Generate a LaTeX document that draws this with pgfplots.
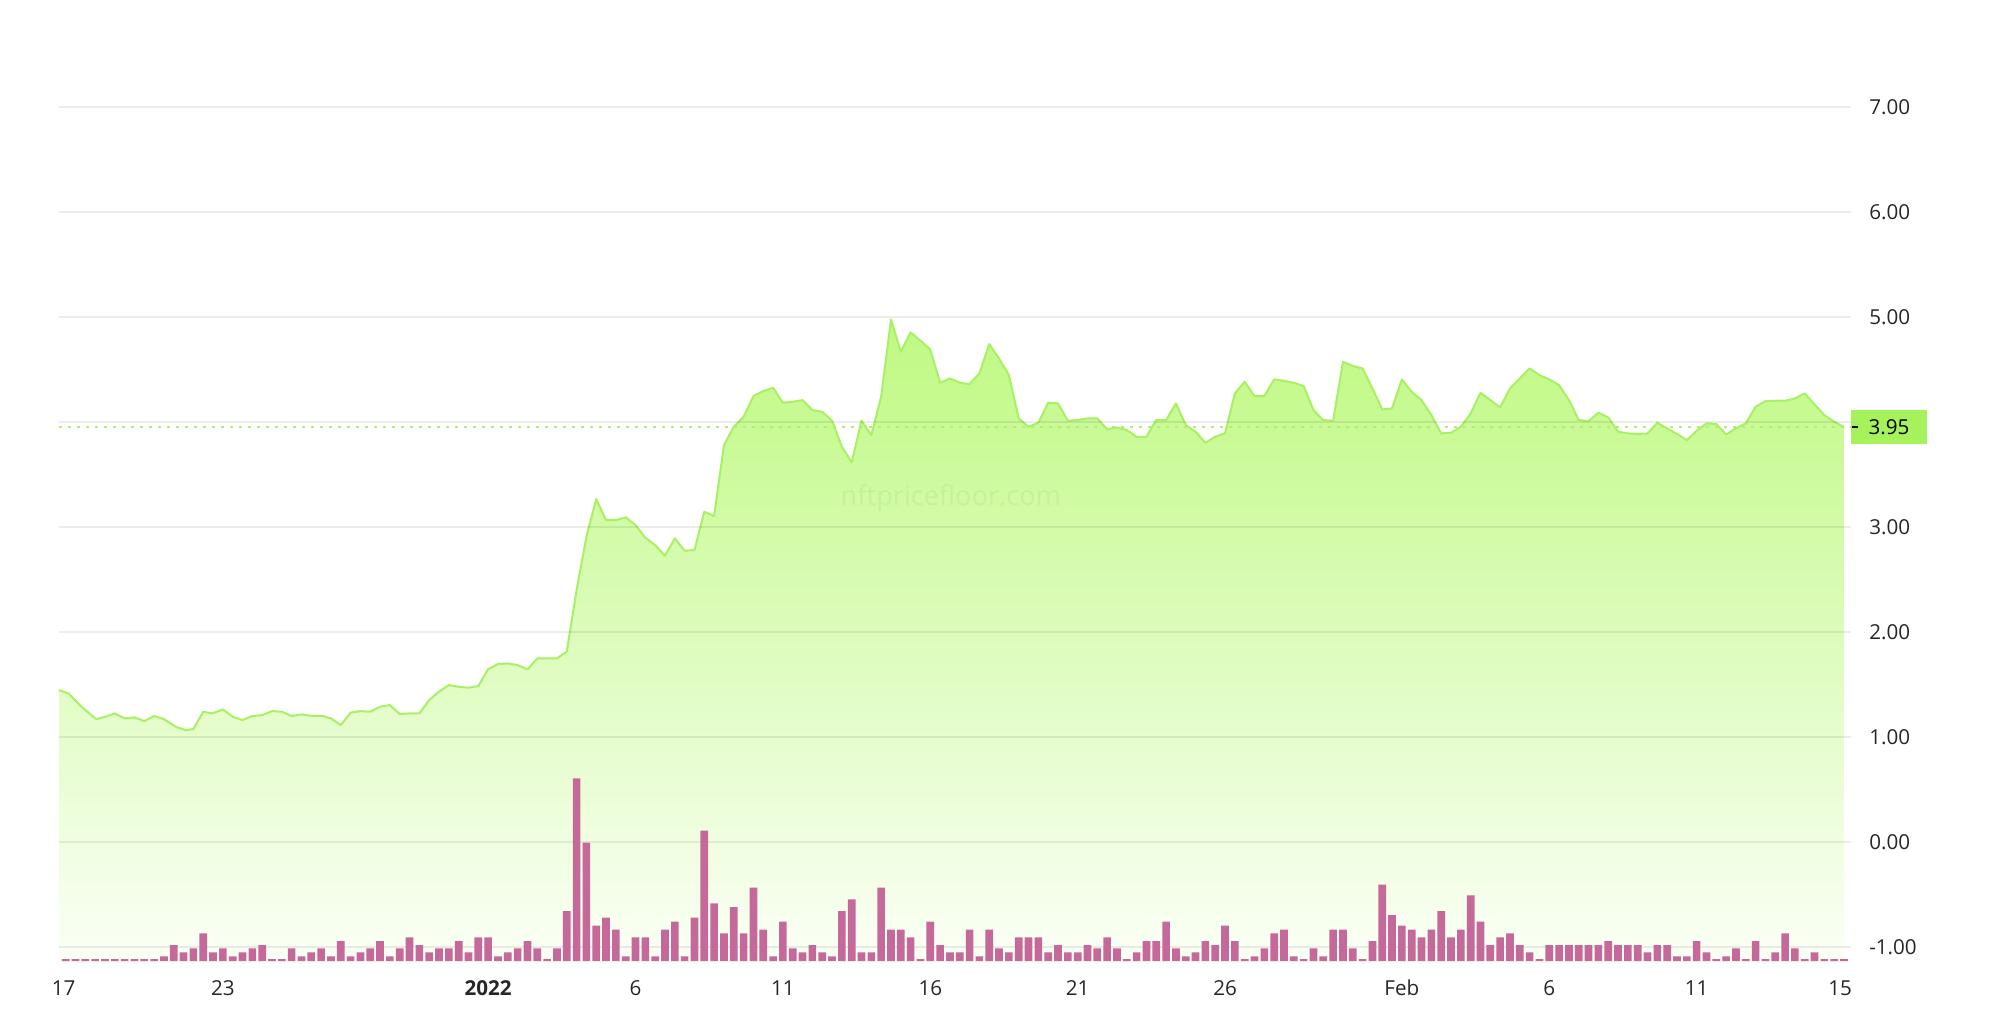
\documentclass[border=0pt]{standalone}
\usepackage{pgfplots}
\pgfplotsset{compat=1.18}
\usepackage{pgfplotstable}
\usepackage{fontspec}
\setmainfont{Open Sans}
\definecolor{linegreen}{HTML}{A8F064}
\definecolor{areatop}{HTML}{BFF982}
\definecolor{areabot}{HTML}{FBFFF6}
\definecolor{boxgreen}{HTML}{A6F25A}
\definecolor{barpink}{HTML}{C4699A}
\definecolor{dotgreen}{HTML}{B2EE78}

\pgfplotstableread{
k v
-0.7 1.444
0.3 1.413
1.6 1.286
3.1 1.168
4 1.190
5 1.222
6 1.175
7 1.184
8 1.149
9 1.197
10 1.168
11.2 1.095
12.2 1.063
13 1.073
14 1.238
14.9 1.222
16 1.260
17 1.190
18 1.159
19 1.197
20 1.206
21 1.244
22 1.238
23 1.197
24 1.213
25 1.200
26.2 1.197
27 1.175
28 1.111
29 1.229
30 1.244
31 1.238
32 1.286
33 1.302
34 1.216
35 1.222
36 1.222
37 1.349
38 1.429
39 1.492
40 1.476
41 1.467
42 1.483
43 1.644
44 1.692
45 1.698
46 1.683
47 1.641
48 1.746
49 1.746
50 1.746
51 1.810
52 2.397
53 2.905
54 3.263
55 3.063
56 3.063
57 3.089
58 3.016
59 2.895
60 2.825
61 2.724
62 2.889
63 2.771
64 2.778
65 3.143
66 3.102
67 3.778
68 3.952
69 4.048
70 4.244
71 4.292
72 4.324
73 4.181
74 4.190
75 4.206
76 4.111
77 4.095
78 4.010
79 3.762
80 3.613
81 4.010
82 3.873
83 4.238
84 4.975
85 4.667
86 4.851
87 4.771
88 4.689
89 4.371
90 4.413
91 4.371
92 4.359
93 4.460
94 4.740
95 4.603
96 4.444
97 4.032
98 3.952
99 3.990
100 4.181
101 4.175
102 4.010
103 4.016
104 4.032
105 4.032
106 3.927
107 3.946
108 3.921
109 3.857
110 3.857
111 4.016
112 4.016
113 4.175
114 3.968
115 3.905
116 3.800
117 3.857
118 3.889
119 4.270
120 4.381
121 4.244
122 4.244
123 4.403
124 4.390
125 4.371
126 4.340
127 4.111
128 4.016
129 4.010
130 4.571
131 4.530
132 4.508
133 4.317
134 4.117
135 4.127
136 4.403
137 4.286
138 4.206
139 4.063
140 3.889
141 3.895
142 3.952
143 4.079
144 4.276
145 4.206
146 4.137
147 4.317
148 4.413
149 4.508
150 4.444
151 4.403
152 4.349
153 4.206
154 4.016
155 4.006
156 4.086
157 4.041
158 3.905
159 3.889
160 3.883
161 3.889
162 3.990
163 3.937
164 3.883
165 3.825
166 3.914
167 3.984
168 3.978
169 3.879
170 3.937
171 3.984
172 4.143
173 4.197
174 4.200
175 4.200
176 4.222
177 4.270
178 4.165
179 4.063
180 4.000
181 3.950
}\price

\begin{document}
\begin{tikzpicture}
\useasboundingbox (0,0) rectangle (997pt,510pt);
\begin{axis}[
  at={(29.25pt,28.75pt)}, anchor=south west,
  scale only axis, width=896.2pt, height=454.125pt,
  xmin=-0.73, xmax=181.7, ymin=-1.15, ymax=7.5,
  clip=false, axis on top,
  axis line style={draw=none}, major tick length=0pt,
  ymajorgrids, major grid style={line width=1pt, black, opacity=0.075},
  ytick={-1,0,1,2,3,4,5,6,7},
  yticklabels={-1.00,0.00,1.00,2.00,3.00,,5.00,6.00,7.00},
  yticklabel pos=right,
  yticklabel style={anchor=west, inner sep=0pt, xshift=9pt},
  xtick={-0.2,16,43,58,73,88,103,118,136,151,166,180.6},
  xticklabels={17,23,\textbf{2022},6,11,16,21,26,Feb,6,11,15},
  xticklabel style={anchor=base, yshift=-16.5pt},
  tick label style={font=\fontsize{10.3pt}{12pt}\selectfont, text=black!85},
]
\addplot[draw=none, top color=areatop, bottom color=areabot] table[x=k, y=v] {\price} |- (axis cs:-0.7,-1.15) -- cycle;
\node[text=black, opacity=0.045, font=\fontsize{13.6pt}{16pt}\selectfont] at (axis cs:90.1,3.27) {nftpricefloor.com};
\addplot[draw=dotgreen, line width=1pt, dash pattern=on 1.5pt off 3pt] coordinates {(-0.73,3.95) (181.7,3.95)};
\addplot[draw=linegreen, line width=1pt, line join=round] table[x=k, y=v] {\price};
\node[fill=boxgreen, anchor=west, minimum width=38pt, minimum height=17pt, inner sep=0pt] at (axis cs:181.7,3.95) {};
\node[anchor=west, inner sep=0pt, xshift=0.5pt, font=\fontsize{10.3pt}{12pt}\selectfont] at (axis cs:181.7,3.95) {\rule[3.35pt]{2.8pt}{0.8pt}\hspace{5.35pt}3.95};
\end{axis}
\begin{axis}[
  at={(29.25pt,28.75pt)}, anchor=south west,
  scale only axis, width=896.2pt, height=454.125pt,
  xmin=-0.73, xmax=181.7, ymin=-0.014, ymax=8.636,
  hide axis, clip=false,
]
\addplot[ybar, bar width=0.78, fill=barpink, draw=none] coordinates {
(0,0.019)(1,0.019)(2,0.019)(3,0.019)(4,0.019)(5,0.019)(6,0.019)(7,0.019)(8,0.019)(9,0.019)
(10,0.044)(11,0.152)(12,0.083)(13,0.121)(14,0.263)(15,0.083)(16,0.121)(17,0.044)(18,0.083)(19,0.121)
(20,0.152)(21,0.019)(22,0.019)(23,0.121)(24,0.044)(25,0.083)(26,0.121)(27,0.044)(28,0.190)(29,0.044)
(30,0.083)(31,0.121)(32,0.190)(33,0.044)(34,0.121)(35,0.225)(36,0.152)(37,0.083)(38,0.121)(39,0.121)
(40,0.190)(41,0.083)(42,0.225)(43,0.225)(44,0.044)(45,0.083)(46,0.121)(47,0.190)(48,0.121)(49,0.019)
(50,0.121)(51,0.476)(52,1.740)(53,1.127)(54,0.337)(55,0.413)(56,0.298)(57,0.044)(58,0.225)(59,0.225)
(60,0.044)(61,0.298)(62,0.375)(63,0.044)(64,0.413)(65,1.241)(66,0.549)(67,0.263)(68,0.514)(69,0.263)
(70,0.698)(71,0.298)(72,0.044)(73,0.375)(74,0.121)(75,0.083)(76,0.152)(77,0.083)(78,0.044)(79,0.476)
(80,0.587)(81,0.083)(82,0.083)(83,0.698)(84,0.298)(85,0.298)(86,0.225)(87,0.019)(88,0.375)(89,0.152)
(90,0.083)(91,0.083)(92,0.298)(93,0.044)(94,0.298)(95,0.121)(96,0.083)(97,0.225)(98,0.225)(99,0.225)
(100,0.083)(101,0.152)(102,0.083)(103,0.083)(104,0.152)(105,0.121)(106,0.225)(107,0.121)(108,0.019)(109,0.083)
(110,0.190)(111,0.190)(112,0.375)(113,0.121)(114,0.044)(115,0.083)(116,0.190)(117,0.152)(118,0.337)(119,0.190)
(120,0.019)(121,0.044)(122,0.121)(123,0.263)(124,0.298)(125,0.044)(126,0.019)(127,0.121)(128,0.044)(129,0.298)
(130,0.298)(131,0.121)(132,0.019)(133,0.190)(134,0.727)(135,0.438)(136,0.337)(137,0.298)(138,0.225)(139,0.298)
(140,0.476)(141,0.225)(142,0.298)(143,0.625)(144,0.375)(145,0.152)(146,0.225)(147,0.263)(148,0.152)(149,0.083)
(150,0.019)(151,0.152)(152,0.152)(153,0.152)(154,0.152)(155,0.152)(156,0.152)(157,0.190)(158,0.152)(159,0.152)
(160,0.152)(161,0.083)(162,0.152)(163,0.152)(164,0.044)(165,0.044)(166,0.190)(167,0.083)(168,0.019)(169,0.044)
(170,0.121)(171,0.019)(172,0.190)(173,0.019)(174,0.083)(175,0.263)(176,0.121)(177,0.019)(178,0.083)(179,0.019)
(180,0.019)(181,0.019)
};
\end{axis}
\end{tikzpicture}
\end{document}
